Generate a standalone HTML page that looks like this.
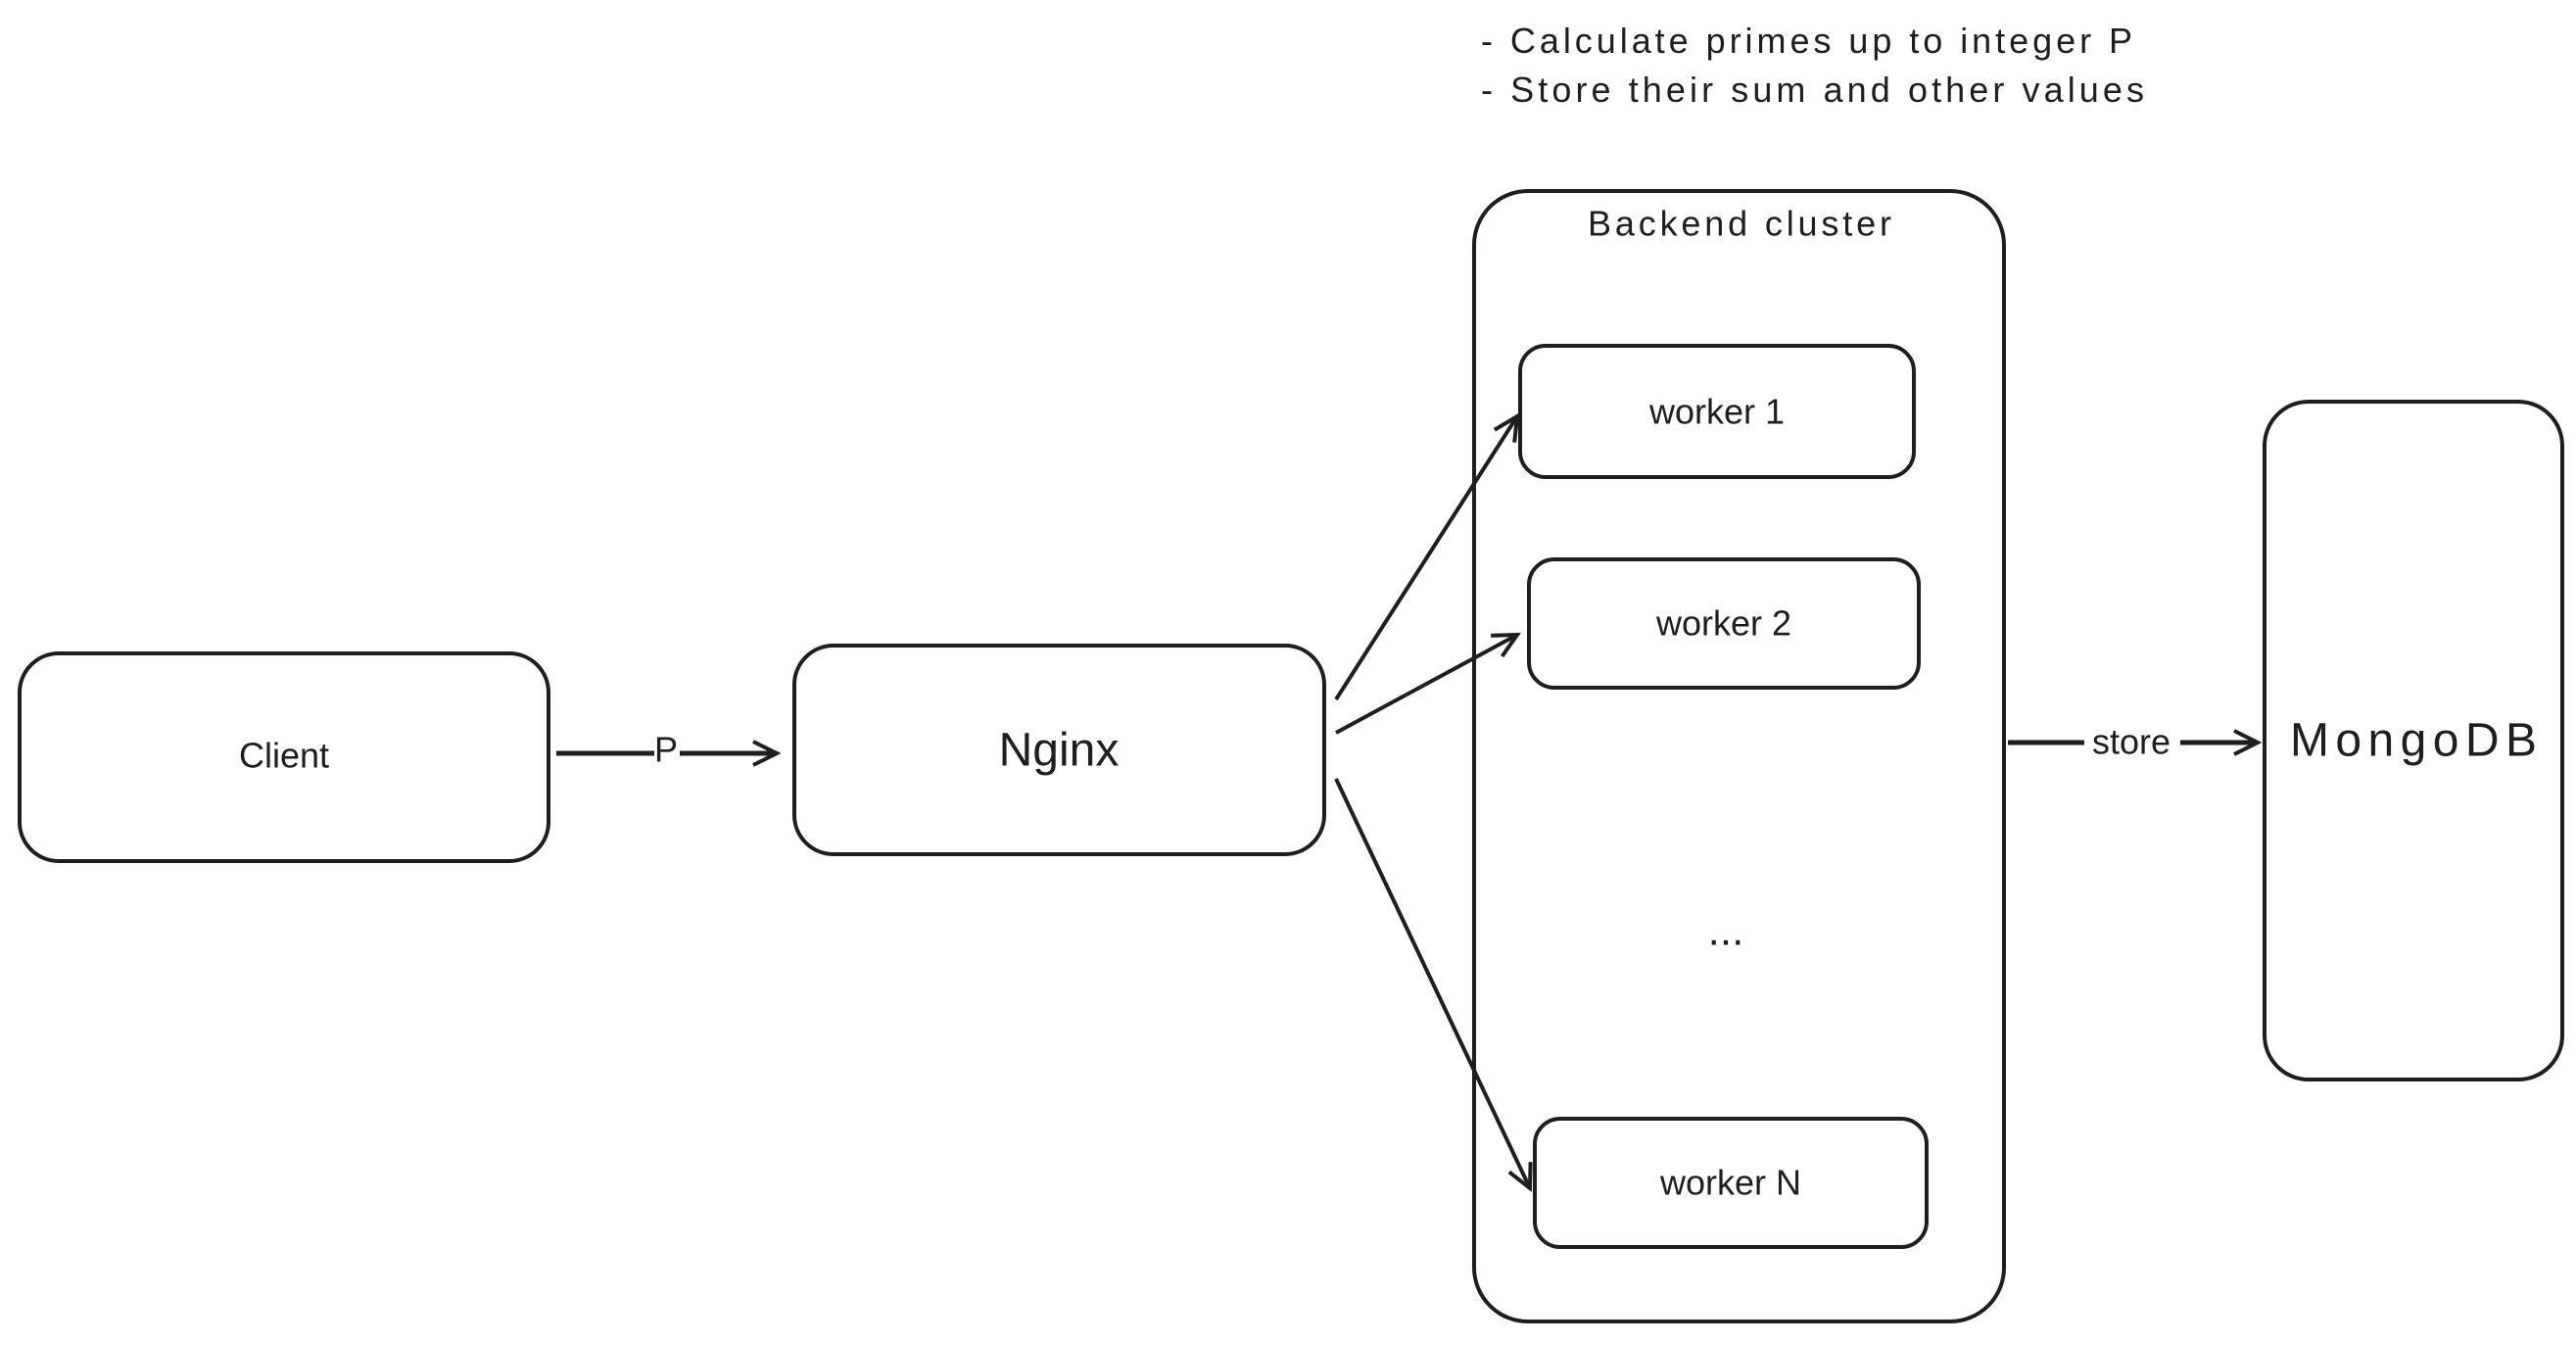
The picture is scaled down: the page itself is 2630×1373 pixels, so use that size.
<!DOCTYPE html>
<html><head><style>
html,body{margin:0;padding:0;background:#fff;}
body{width:2630px;height:1368px;overflow:hidden;}
text{font-family:"Liberation Sans",sans-serif;fill:#1e1e1e;}
</style></head><body>
<svg width="2630" height="1368" viewBox="0 0 2630 1368" xmlns="http://www.w3.org/2000/svg">
<defs><marker id="a" markerWidth="30" markerHeight="30" refX="26" refY="15" orient="auto" markerUnits="userSpaceOnUse"><path d="M2,3 L26,15 L2,27" fill="none" stroke="#1e1e1e" stroke-width="4"/></marker></defs>
<g fill="none" stroke="#1e1e1e" stroke-width="4">
<rect x="20" y="667" width="540" height="212" rx="40"/>
<rect x="811" y="659" width="541" height="213" rx="40"/>
<rect x="1505" y="195" width="541" height="1154" rx="55"/>
<rect x="1552" y="353" width="402" height="134" rx="26"/>
<rect x="1561" y="571" width="398" height="131" rx="26"/>
<rect x="1567" y="1142" width="400" height="131" rx="26"/>
<rect x="2312" y="410" width="304" height="692" rx="45"/>
<line x1="568" y1="769" x2="793" y2="769" marker-end="url(#a)" stroke-width="5"/>
<line x1="2050" y1="758" x2="2305" y2="758" marker-end="url(#a)" stroke-width="5"/>
<line x1="1364" y1="714" x2="1549" y2="425" marker-end="url(#a)"/>
<line x1="1364" y1="748" x2="1549" y2="648" marker-end="url(#a)"/>
<line x1="1364" y1="795" x2="1562" y2="1213" marker-end="url(#a)"/>
</g>
<rect x="668" y="752" width="26" height="34" fill="#fff"/>
<rect x="2128" y="740" width="98" height="36" fill="#fff"/>
<g font-size="36" text-anchor="middle" dominant-baseline="central">
<text x="290" y="771">Client</text>
<text x="1081" y="766" font-size="48">Nginx</text>
<text x="680" y="765">P</text>
<text x="2176" y="757">store</text>
<text x="1776" y="228" textLength="310">Backend cluster</text>
<text x="1753" y="420">worker 1</text>
<text x="1760" y="636">worker 2</text>
<text x="1767" y="1207">worker N</text>
<text x="1762" y="950" font-size="44">...</text>
<text x="2464" y="756" font-size="48" textLength="252">MongoDB</text>
</g>
<text x="1512" y="54" font-size="36" textLength="665">- Calculate primes up to integer P</text>
<text x="1512" y="104" font-size="36" textLength="677">- Store their sum and other values</text>
</svg>
</body></html>
